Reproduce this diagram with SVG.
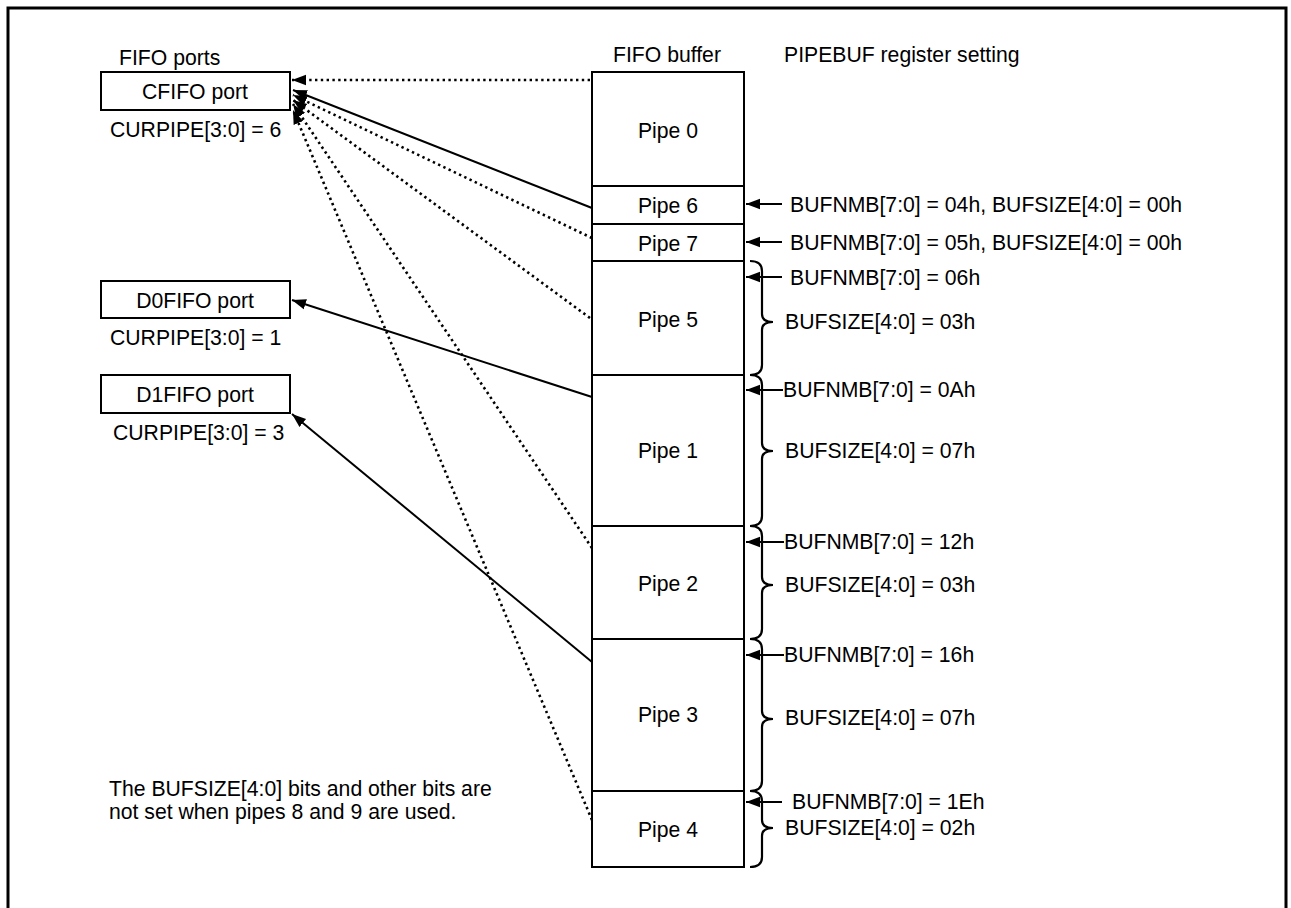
<svg xmlns="http://www.w3.org/2000/svg" width="1291" height="908" viewBox="0 0 1291 908">
<style>
text{font-family:"Liberation Sans",Arial,sans-serif;font-size:21.2px;fill:#000}
.mid{text-anchor:middle}
.box{fill:#fff;stroke:#000;stroke-width:2}
.div{stroke:#000;stroke-width:2}
.sol{stroke:#000;stroke-width:2;fill:none}
.dot{stroke:#000;stroke-width:2.6;fill:none;stroke-dasharray:2.4 3.4}
.br{stroke:#000;stroke-width:2.2;fill:none}
</style>
<defs>
<marker id="ah" markerUnits="userSpaceOnUse" markerWidth="16" markerHeight="14" refX="14" refY="7" orient="auto">
<path d="M0,1.8 L14,7 L0,12.2 Z" fill="#000"/>
</marker>
</defs>
<rect width="1291" height="908" fill="#fff"/>
<path d="M8,912 V8 H1286 V912" fill="none" stroke="#000" stroke-width="3"/>

<g id="labels">
<text x="119" y="65">FIFO ports</text>
<text x="613" y="62">FIFO buffer</text>
<text x="784" y="62">PIPEBUF register setting</text>
<text x="109" y="796">The BUFSIZE[4:0] bits and other bits are</text>
<text x="109" y="819">not set when pipes 8 and 9 are used.</text>
</g>

<g id="cfifo">
<rect class="box" x="101" y="72" width="189" height="38"/>
<text class="mid" x="195" y="99">CFIFO port</text>
<text x="110" y="137">CURPIPE[3:0] = 6</text>
</g>
<g id="d0fifo">
<rect class="box" x="101" y="281" width="189" height="37"/>
<text class="mid" x="195" y="308">D0FIFO port</text>
<text x="110" y="345">CURPIPE[3:0] = 1</text>
</g>
<g id="d1fifo">
<rect class="box" x="101" y="375" width="189" height="38"/>
<text class="mid" x="195" y="402">D1FIFO port</text>
<text x="113" y="440">CURPIPE[3:0] = 3</text>
</g>

<g id="fifo-buffer">
<rect class="box" x="592" y="72" width="152" height="795"/>
<line class="div" x1="592" y1="186" x2="744" y2="186"/>
<line class="div" x1="592" y1="224" x2="744" y2="224"/>
<line class="div" x1="592" y1="261" x2="744" y2="261"/>
<line class="div" x1="592" y1="375" x2="744" y2="375"/>
<line class="div" x1="592" y1="526" x2="744" y2="526"/>
<line class="div" x1="592" y1="639" x2="744" y2="639"/>
<line class="div" x1="592" y1="791" x2="744" y2="791"/>
</g>
<g id="pipe0"><text class="mid" x="668" y="138">Pipe 0</text></g>
<g id="pipe6"><text class="mid" x="668" y="213">Pipe 6</text></g>
<g id="pipe7"><text class="mid" x="668" y="251">Pipe 7</text></g>
<g id="pipe5"><text class="mid" x="668" y="327">Pipe 5</text></g>
<g id="pipe1"><text class="mid" x="668" y="458">Pipe 1</text></g>
<g id="pipe2"><text class="mid" x="668" y="591">Pipe 2</text></g>
<g id="pipe3"><text class="mid" x="668" y="722">Pipe 3</text></g>
<g id="pipe4"><text class="mid" x="668" y="837">Pipe 4</text></g>

<g id="settings">
<text x="790" y="212">BUFNMB[7:0] = 04h, BUFSIZE[4:0] = 00h</text>
<text x="790" y="250">BUFNMB[7:0] = 05h, BUFSIZE[4:0] = 00h</text>
<text x="790" y="285">BUFNMB[7:0] = 06h</text>
<text x="785" y="329">BUFSIZE[4:0] = 03h</text>
<text x="783" y="397">BUFNMB[7:0] = 0Ah</text>
<text x="785" y="458">BUFSIZE[4:0] = 07h</text>
<text x="784" y="549">BUFNMB[7:0] = 12h</text>
<text x="785" y="592">BUFSIZE[4:0] = 03h</text>
<text x="784" y="662">BUFNMB[7:0] = 16h</text>
<text x="785" y="725">BUFSIZE[4:0] = 07h</text>
<text x="792" y="809">BUFNMB[7:0] = 1Eh</text>
<text x="785" y="835">BUFSIZE[4:0] = 02h</text>
</g>

<g id="braces">
<path class="br" d="M750,261 Q762,261 762,271 L762,314 Q762,322 773,322 Q762,322 762,330 L762,365 Q762,375 750,375"/>
<path class="br" d="M750,375 Q762,375 762,385 L762,443 Q762,451 773,451 Q762,451 762,459 L762,516 Q762,526 750,526"/>
<path class="br" d="M750,526 Q762,526 762,536 L762,577 Q762,585 773,585 Q762,585 762,593 L762,629 Q762,639 750,639"/>
<path class="br" d="M750,639 Q762,639 762,649 L762,711 Q762,719 773,719 Q762,719 762,727 L762,781 Q762,791 750,791"/>
<path class="br" d="M750,791 Q762,791 762,801 L762,820 Q762,828 773,828 Q762,828 762,836 L762,857 Q762,867 750,867"/>
</g>

<g id="connectors">
<line class="sol" x1="782" y1="204" x2="746" y2="204" marker-end="url(#ah)"/>
<line class="sol" x1="782" y1="242" x2="746" y2="242" marker-end="url(#ah)"/>
<line class="sol" x1="782" y1="277" x2="746" y2="277" marker-end="url(#ah)"/>
<line class="sol" x1="783" y1="390" x2="746" y2="390" marker-end="url(#ah)"/>
<line class="sol" x1="784" y1="542" x2="746" y2="542" marker-end="url(#ah)"/>
<line class="sol" x1="784" y1="655" x2="746" y2="655" marker-end="url(#ah)"/>
<line class="sol" x1="782" y1="802" x2="746" y2="802" marker-end="url(#ah)"/>

<line class="dot" x1="590" y1="80" x2="292" y2="80" marker-end="url(#ah)"/>
<line class="sol" x1="592" y1="208" x2="293" y2="90" marker-end="url(#ah)"/>
<line class="dot" x1="592" y1="238" x2="293" y2="95" marker-end="url(#ah)"/>
<line class="dot" x1="590" y1="318" x2="293" y2="100" marker-end="url(#ah)"/>
<line class="dot" x1="592" y1="548" x2="293" y2="104" marker-end="url(#ah)"/>
<line class="dot" x1="592" y1="820" x2="293" y2="110" marker-end="url(#ah)"/>
<line class="sol" x1="592" y1="397" x2="292" y2="300" marker-end="url(#ah)"/>
<line class="sol" x1="592" y1="662" x2="292" y2="414" marker-end="url(#ah)"/>
</g>
</svg>
